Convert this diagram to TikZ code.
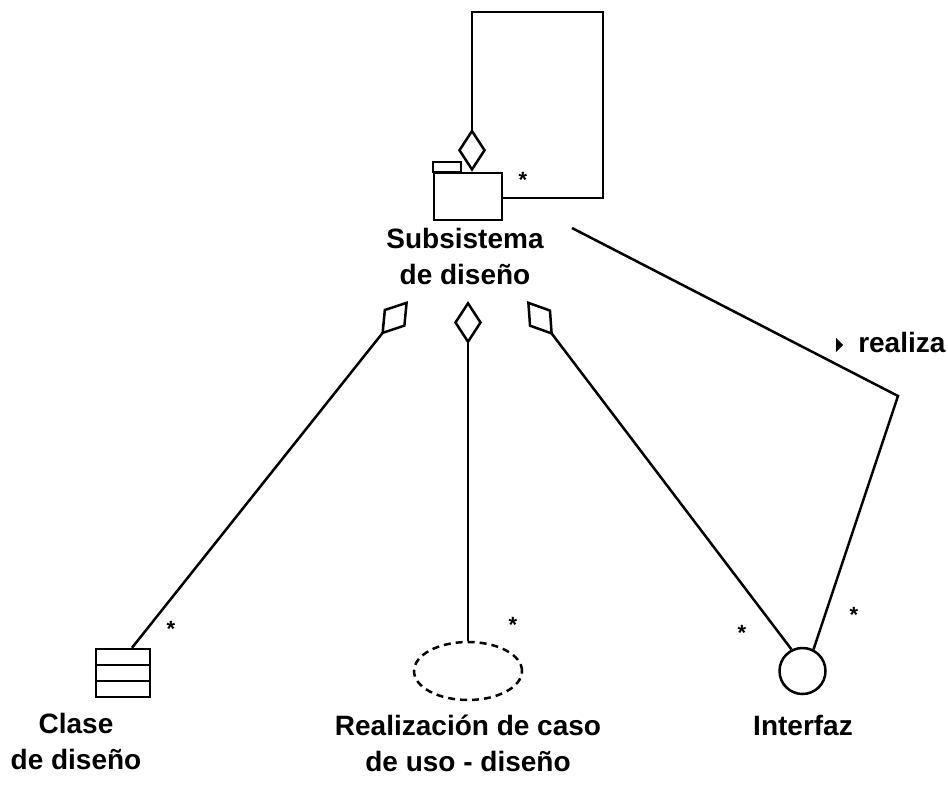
\documentclass[tikz,border=0pt]{standalone}
\usepackage{fontspec}
\setmainfont{Liberation Sans}
\usetikzlibrary{arrows.meta,shapes.geometric,calc}
\begin{document}
\begin{tikzpicture}[x=1pt,y=-1pt, line width=2.5pt,
 lab/.style={font=\fontsize{28}{36}\selectfont\bfseries, align=center, inner sep=0pt},
 mult/.style={font=\fontsize{22}{22}\selectfont\bfseries, inner sep=0pt, anchor=base},
 aggr/.style={{Diamond[open,length=43pt 0,width=28pt 0]}-},
 shapebox/.style={draw, inner sep=0pt}]
\useasboundingbox (0,0) rectangle (948,785);
% subsystem package
\node[shapebox, minimum width=68pt, minimum height=47pt] (pkg) at (468,196.5) {};
\draw (pkg.north west) rectangle ++(28,-10);
% design class
\node[shapebox, minimum width=54pt, minimum height=48pt] (cls) at (123,673) {};
\draw ($(cls.west)+(0,-8)$) -- ($(cls.east)+(0,-8)$);
\draw ($(cls.west)+(0,8)$) -- ($(cls.east)+(0,8)$);
% use-case realization
\node[shapebox, ellipse, dash pattern=on 7pt off 5pt, minimum width=108pt, minimum height=58pt] (ell) at (468,671) {};
% interface
\node[shapebox, circle, minimum size=46pt] (ifc) at (802.5,671) {};
% labels
\node[lab, anchor=north] (lsub) at (465,227) {Subsistema\\de diseño};
\node[lab, anchor=north] (lcls) at (76,712) {Clase\\de diseño};
\node[lab, anchor=north] (lreal) at (468,714) {Realización de caso\\de uso - diseño};
\node[lab, anchor=north] (lifc) at (803,714) {Interfaz};
\node[lab, anchor=base west] (lrea) at (857,352) {realiza};
\fill ($(lrea.base west)+(-21,-14)$) -- ++(7,7) -- ++(-7,7) -- cycle;
% multiplicities
\node[mult] (s1) at (523,187) {*};
\node[mult] (s2) at (171,636) {*};
\node[mult] (s3) at (513,632) {*};
\node[mult] (s4) at (742,640) {*};
\node[mult] (s5) at (854,622) {*};
% connectors
\coordinate (dL) at (408,301);
\coordinate (dM) at (468,301);
\coordinate (dR) at (527,301);
\draw[aggr] (dL) -- ([xshift=9pt]cls.north);
\draw[aggr] (dM) -- (ell.north);
\draw[aggr] (dR) -- (ifc.117);
\coordinate (bend) at (898,396);
\coordinate (rs) at (572,228);
\draw (ifc.63) -- (bend) -- (rs);
\coordinate (lp) at (603,12);
\draw[aggr] ([xshift=4pt]pkg.north) |- (lp) |- ([yshift=-1.5pt]pkg.east);
\end{tikzpicture}
\end{document}
